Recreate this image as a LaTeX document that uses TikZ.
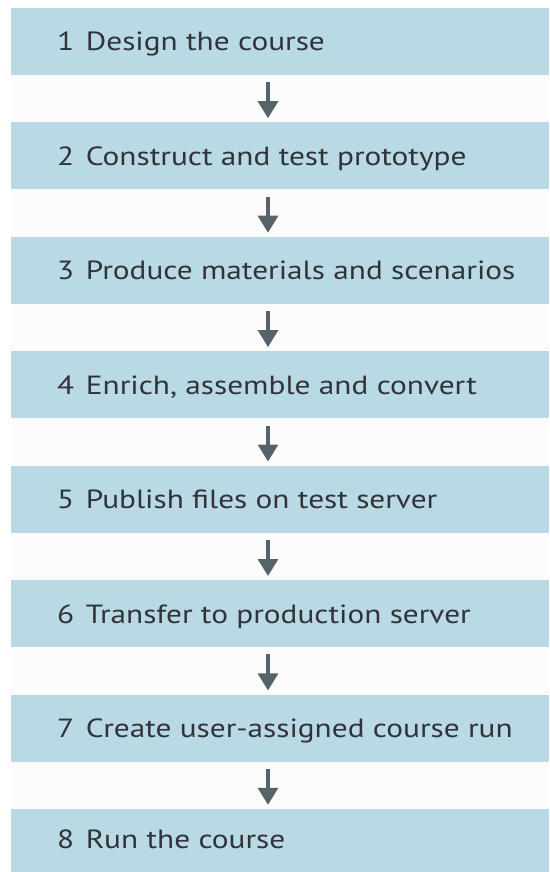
\documentclass[tikz,border=0pt]{standalone}
\usepackage{fontspec}
\setmainfont{PT Sans}[FakeStretch=1.19]
\usetikzlibrary{arrows.meta,positioning}

\definecolor{boxblue}{RGB}{185,217,228}
\definecolor{arrowgray}{RGB}{86,99,107}
\definecolor{gapwhite}{RGB}{251,251,251}
\definecolor{textgray}{RGB}{48,52,56}

\newcommand{\numgap}{\hspace{0.45em}}

\tikzset{
  stepbox/.style={fill=boxblue, minimum width=538pt, minimum height=67pt, inner sep=0pt},
  steptext/.style={anchor=base west, inner sep=0pt, text=textgray, font=\fontsize{26.3}{30}\selectfont},
  steparrow/.style={arrowgray, line width=3.2pt, -{Triangle[width=20pt,length=17pt]},
    shorten <=7pt, shorten >=4pt}
}

\begin{document}
\begin{tikzpicture}[x=1pt,y=-1pt]
    \useasboundingbox (0,0) rectangle (549,872);
    \fill[gapwhite] (11,8) rectangle (549,872);

    % the eight steps
    \node[stepbox] (s1) at (280,41.5) {};
    \node[stepbox] (s2) at (280,155.9) {};
    \node[stepbox] (s3) at (280,270.4) {};
    \node[stepbox] (s4) at (280,384.8) {};
    \node[stepbox] (s5) at (280,499.2) {};
    \node[stepbox] (s6) at (280,613.7) {};
    \node[stepbox] (s7) at (280,728.1) {};
    \node[stepbox, minimum height=63pt] (s8) at (280,840.5) {};

    \node[steptext] (t1) at ([xshift=46pt,yshift=-9.5pt]s1.west) {1\numgap Design the course};
    \node[steptext] (t2) at ([xshift=46pt,yshift=-9.5pt]s2.west) {2\numgap Construct and test prototype};
    \node[steptext] (t3) at ([xshift=46pt,yshift=-9.5pt]s3.west) {3\numgap Produce materials and scenarios};
    \node[steptext] (t4) at ([xshift=46pt,yshift=-9.5pt]s4.west) {4\numgap Enrich, assemble and convert};
    \node[steptext] (t5) at ([xshift=46pt,yshift=-9.5pt]s5.west) {5\numgap Publish files on test server};
    \node[steptext] (t6) at ([xshift=46pt,yshift=-9.5pt]s6.west) {6\numgap Transfer to production server};
    \node[steptext] (t7) at ([xshift=46pt,yshift=-9.5pt]s7.west) {7\numgap Create user-assigned course run};
    \node[steptext] (t8) at ([xshift=46pt,yshift=-7.5pt]s8.west) {8\numgap Run the course};

    % arrows between the steps
    \draw[steparrow] ([xshift=-12pt]s1.south) -- ([xshift=-12pt]s2.north);
    \draw[steparrow] ([xshift=-12pt]s2.south) -- ([xshift=-12pt]s3.north);
    \draw[steparrow] ([xshift=-12pt]s3.south) -- ([xshift=-12pt]s4.north);
    \draw[steparrow] ([xshift=-12pt]s4.south) -- ([xshift=-12pt]s5.north);
    \draw[steparrow] ([xshift=-12pt]s5.south) -- ([xshift=-12pt]s6.north);
    \draw[steparrow] ([xshift=-12pt]s6.south) -- ([xshift=-12pt]s7.north);
    \draw[steparrow] ([xshift=-12pt]s7.south) -- ([xshift=-12pt]s8.north);
\end{tikzpicture}
\end{document}
